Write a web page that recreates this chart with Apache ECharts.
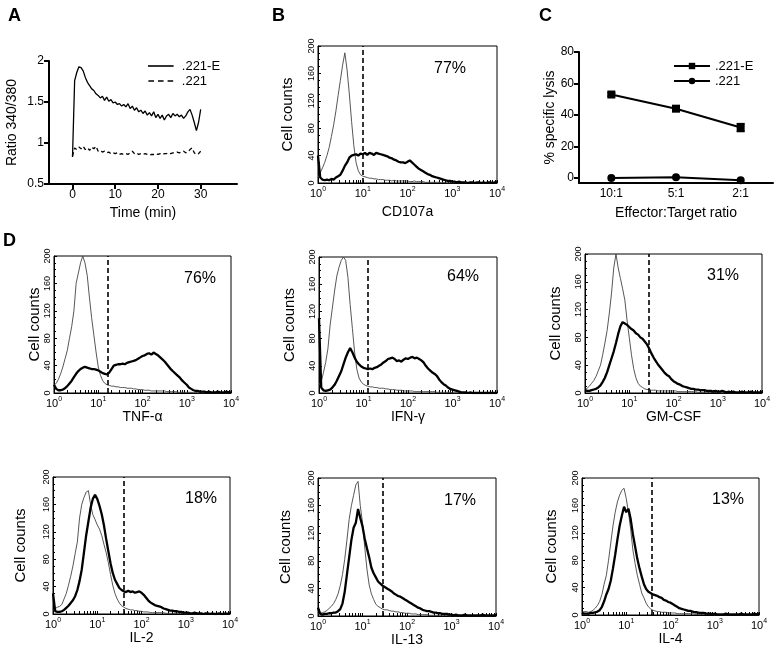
<!DOCTYPE html>
<html>
<head>
<meta charset="utf-8">
<script src="https://cdn.jsdelivr.net/npm/echarts@6/dist/echarts.min.js"></script>
<style>
html, body { margin: 0; padding: 0; background: #fff; }
#fig { width: 774px; height: 653px; }
</style>
</head>
<body>
<div id="fig"></div>
<script>
// A  Ca flux, ratio 340/380 every 0.5 min
var timeA = [];
for (var t = 0; t <= 60; t++) timeA.push(t / 2);
var ratioE = [
	0.83, 1.76, 1.86, 1.93, 1.92, 1.88, 1.80, 1.74, 1.70, 1.66,
	1.64, 1.60, 1.58, 1.55, 1.57, 1.52, 1.56, 1.51, 1.53, 1.49,
	1.50, 1.47, 1.48, 1.45, 1.47, 1.44, 1.48, 1.42, 1.45, 1.40,
	1.43, 1.38, 1.40, 1.36, 1.39, 1.34, 1.37, 1.33, 1.38, 1.31,
	1.35, 1.30, 1.34, 1.28, 1.33, 1.35, 1.31, 1.36, 1.33, 1.35,
	1.32, 1.34, 1.30, 1.33, 1.38, 1.41, 1.34, 1.25, 1.15, 1.25,
	1.41
];
var ratio221 = [
	0.84, 0.94, 0.92, 0.95, 0.93, 0.96, 0.92, 0.94, 0.91, 0.95,
	0.93, 0.96, 0.90, 0.91, 0.89, 0.90, 0.88, 0.89, 0.87, 0.88,
	0.87, 0.88, 0.86, 0.87, 0.86, 0.87, 0.86, 0.88, 0.90, 0.87,
	0.88, 0.86, 0.87, 0.86, 0.87, 0.86, 0.85, 0.86, 0.86, 0.87,
	0.86, 0.87, 0.86, 0.87, 0.87, 0.88, 0.87, 0.88, 0.88, 0.89,
	0.88, 0.89, 0.90, 0.88, 0.89, 0.92, 0.94, 0.88, 0.86, 0.87,
	0.90
];

// C  cytotoxicity
var etRatios = ['10:1', '5:1', '2:1'];
var lysisE   = [53, 44, 32];
var errE     = [1, 1, 2.5];
var lysis221 = [0, 0.5, -1.5];

// B / D  histograms, counts per 0.05-decade bin from 10^0 to 10^4
var bins = [];
for (var i = 0; i <= 80; i++) bins.push(i * 0.05);

var cdThin = [
	8, 15, 22, 30, 40, 52, 68, 85, 105, 128,
	150, 172, 190, 165, 130, 90, 55, 30, 18, 12,
	10, 9, 8, 7, 7, 6, 6, 5, 5, 5,
	4, 4, 4, 3, 4, 3, 3, 3, 3, 3,
	3, 2, 2, 3, 2, 2, 2, 2, 1, 1,
	1, 1, 1, 1, 1, 0, 1, 0, 0, 0,
	0, 0, 0, 0, 0, 0, 0, 0, 0, 0,
	0, 0, 0, 0, 0, 0, 0, 0, 0, 0,
	0];
var cdThick = [
	40, 8, 5, 4, 5, 4, 6, 5, 8, 10,
	12, 18, 25, 30, 37, 40, 41, 42, 40, 43,
	42, 44, 41, 44, 43, 41, 44, 43, 42, 41,
	40, 39, 37, 36, 34, 33, 31, 30, 30, 29,
	31, 33, 30, 27, 24, 21, 19, 17, 15, 13,
	12, 10, 9, 8, 7, 6, 5, 4, 3, 3,
	2, 2, 1, 2, 1, 1, 1, 0, 1, 1,
	0, 1, 1, 0, 1, 0, 1, 1, 0, 1,
	2];
var tnfThin = [
	12, 14, 20, 28, 38, 50, 62, 80, 97, 120,
	160, 175, 190, 200, 190, 172, 140, 110, 85, 60,
	38, 26, 18, 14, 12, 11, 10, 10, 9, 9,
	8, 8, 8, 7, 7, 7, 6, 6, 5, 5,
	5, 4, 4, 4, 3, 3, 3, 3, 3, 3,
	3, 2, 2, 2, 2, 2, 1, 1, 1, 1,
	1, 1, 1, 0, 1, 0, 0, 0, 0, 0,
	0, 0, 0, 0, 0, 0, 0, 0, 0, 0,
	0];
var tnfThick = [
	12, 6, 4, 4, 5, 7, 10, 14, 18, 23,
	28, 32, 35, 37, 38, 37, 36, 35, 35, 34,
	33, 31, 29, 28, 27, 30, 35, 40, 41, 42,
	42, 43, 42, 44, 45, 46, 47, 48, 50, 52,
	54, 55, 57, 58, 56, 59, 57, 55, 52, 49,
	46, 42, 38, 34, 31, 28, 25, 22, 18, 15,
	12, 8, 6, 4, 3, 3, 2, 2, 2, 1,
	2, 1, 1, 1, 2, 1, 1, 1, 2, 1,
	1];
var ifnThin = [
	12, 17, 30, 45, 65, 100, 125, 150, 172, 185,
	195, 200, 195, 170, 130, 95, 60, 35, 22, 16,
	13, 11, 10, 9, 9, 8, 8, 7, 7, 7,
	6, 6, 5, 5, 5, 4, 4, 4, 3, 3,
	3, 3, 3, 2, 2, 2, 2, 2, 2, 2,
	2, 2, 2, 1, 1, 1, 1, 1, 1, 1,
	0, 0, 0, 0, 0, 0, 0, 0, 0, 0,
	0, 0, 0, 0, 0, 0, 0, 0, 0, 0,
	0];
var ifnThick = [
	110, 8, 4, 3, 4, 5, 8, 12, 18, 25,
	32, 42, 52, 60, 66, 60, 52, 46, 42, 39,
	37, 36, 35, 36, 35, 37, 38, 40, 42, 45,
	47, 50, 51, 52, 50, 47, 48, 46, 49, 51,
	50, 52, 53, 51, 52, 50, 48, 45, 40, 36,
	33, 30, 28, 25, 20, 16, 13, 11, 8, 6,
	5, 4, 3, 2, 1, 1, 1, 0, 1, 0,
	0, 0, 0, 0, 0, 0, 0, 0, 0, 0,
	0];
var gmThin = [
	5, 7, 10, 14, 18, 24, 32, 40, 55, 72,
	90, 115, 144, 180, 200, 180, 165, 150, 134, 105,
	80, 55, 35, 22, 14, 10, 8, 6, 5, 5,
	4, 4, 4, 3, 3, 3, 3, 3, 3, 3,
	3, 3, 2, 2, 2, 2, 2, 2, 2, 2,
	2, 1, 1, 1, 1, 1, 1, 1, 1, 1,
	1, 0, 0, 0, 0, 0, 0, 0, 0, 0,
	0, 0, 0, 0, 0, 0, 0, 0, 0, 0,
	0];
var gmThick = [
	4, 3, 3, 4, 5, 6, 8, 11, 16, 22,
	30, 40, 50, 60, 72, 85, 96, 102, 100, 98,
	95, 92, 90, 86, 84, 80, 78, 74, 70, 64,
	57, 51, 46, 41, 37, 33, 29, 26, 24, 20,
	17, 15, 13, 12, 10, 9, 8, 7, 6, 6,
	5, 5, 4, 4, 4, 3, 3, 3, 2, 3,
	2, 2, 3, 2, 1, 2, 1, 2, 1, 1,
	1, 2, 1, 1, 1, 2, 1, 1, 1, 1,
	2];
var il2Thin = [
	5, 8, 10, 11, 14, 22, 30, 42, 55, 70,
	88, 105, 140, 160, 170, 178, 180, 160, 145, 138,
	130, 124, 115, 102, 90, 75, 58, 42, 30, 22,
	16, 12, 10, 8, 7, 6, 6, 5, 5, 4,
	4, 3, 3, 3, 2, 2, 2, 2, 2, 2,
	2, 1, 1, 1, 1, 1, 1, 1, 1, 1,
	0, 0, 0, 0, 0, 0, 0, 0, 0, 0,
	0, 0, 0, 0, 0, 0, 0, 0, 0, 0,
	0];
var il2Thick = [
	30, 4, 3, 3, 4, 6, 9, 12, 16, 20,
	26, 35, 48, 65, 90, 115, 135, 155, 168, 174,
	168, 158, 146, 130, 110, 92, 74, 60, 50, 44,
	38, 35, 33, 32, 34, 32, 33, 31, 32, 33,
	31, 28, 24, 20, 17, 15, 13, 12, 11, 10,
	8, 7, 6, 5, 5, 4, 4, 3, 3, 2,
	2, 2, 1, 1, 2, 1, 1, 1, 0, 1,
	1, 0, 1, 0, 0, 1, 0, 0, 1, 0,
	2];
var il13Thin = [
	4, 4, 5, 6, 8, 11, 14, 18, 24, 32,
	44, 60, 82, 110, 140, 160, 175, 190, 195, 160,
	135, 100, 68, 45, 32, 24, 17, 14, 12, 10,
	9, 9, 8, 7, 7, 6, 6, 5, 5, 4,
	4, 4, 3, 3, 3, 2, 2, 2, 2, 2,
	1, 1, 1, 1, 1, 1, 1, 1, 1, 0,
	0, 0, 0, 0, 0, 0, 0, 0, 0, 0,
	0, 0, 0, 0, 0, 0, 0, 0, 0, 0,
	0];
var il13Thick = [
	12, 3, 2, 3, 3, 4, 4, 5, 5, 7,
	10, 18, 35, 60, 85, 110, 128, 135, 155, 142,
	130, 112, 98, 85, 70, 62, 56, 50, 47, 44,
	42, 40, 38, 36, 33, 31, 29, 28, 26, 24,
	22, 20, 18, 16, 14, 12, 11, 9, 8, 7,
	7, 6, 5, 5, 4, 4, 3, 3, 3, 2,
	2, 1, 2, 1, 1, 1, 2, 1, 1, 1,
	1, 1, 1, 1, 2, 1, 1, 1, 1, 1,
	2];
var il4Thin = [
	4, 5, 5, 4, 5, 7, 10, 14, 20, 30,
	45, 58, 80, 105, 130, 150, 165, 175, 182, 185,
	170, 150, 125, 95, 75, 58, 45, 32, 25, 17,
	12, 9, 7, 6, 5, 5, 4, 4, 4, 3,
	3, 3, 3, 2, 2, 2, 2, 2, 2, 2,
	2, 1, 1, 1, 1, 1, 1, 1, 1, 1,
	0, 0, 0, 0, 0, 0, 0, 0, 0, 0,
	0, 0, 0, 0, 0, 0, 0, 0, 0, 0,
	0];
var il4Thick = [
	3, 2, 2, 2, 3, 3, 4, 5, 7, 12,
	20, 30, 38, 50, 68, 88, 110, 130, 145, 158,
	150, 155, 140, 118, 100, 82, 68, 56, 45, 38,
	34, 32, 30, 29, 28, 26, 25, 22, 21, 19,
	18, 16, 14, 12, 10, 9, 8, 7, 6, 6,
	5, 4, 4, 3, 3, 3, 2, 2, 2, 1,
	2, 1, 1, 1, 1, 2, 1, 1, 1, 1,
	1, 1, 2, 1, 1, 1, 1, 1, 2, 1,
	2];

var markers  = ['CD107a', 'TNF-\u03b1', 'IFN-\u03b3', 'GM-CSF', 'IL-2', 'IL-13', 'IL-4'];
var thinSets  = [cdThin, tnfThin, ifnThin, gmThin, il2Thin, il13Thin, il4Thin];
var thickSets = [cdThick, tnfThick, ifnThick, gmThick, il2Thick, il13Thick, il4Thick];
var gates    = [1.0, 1.22, 1.1, 1.45, 1.6, 1.46, 1.58];   // decades
var percents = ['77%', '76%', '64%', '31%', '18%', '17%', '13%'];

// layout of the histogram boxes (px)
var histBox = [
	{ left: 318, top: 46,  width: 179, height: 137, yGap: 23, xGap: 22, px: 450, py: 70 },
	{ left: 54,  top: 256, width: 177, height: 137, yGap: 9,  xGap: 12, px: 200, py: 280 },
	{ left: 319, top: 257, width: 178, height: 136, yGap: 22, xGap: 12, px: 463, py: 278 },
	{ left: 585, top: 254, width: 177, height: 139, yGap: 22, xGap: 12, px: 723, py: 277 },
	{ left: 53,  top: 477, width: 177, height: 137, yGap: 25, xGap: 11, px: 201, py: 500 },
	{ left: 318, top: 478, width: 178, height: 138, yGap: 25, xGap: 14, px: 460, py: 502 },
	{ left: 582, top: 478, width: 177, height: 137, yGap: 23, xGap: 15, px: 728, py: 501 }
];

var FONT = "'Liberation Sans', Arial, Helvetica, sans-serif";
var txt = function(size){ return { fontSize: size, fontFamily: FONT, color: '#000' }; };

// log minor ticks 1..9 x 10^n, in decade units
var logTicks = [];
for (var d = 0; d < 4; d++) {
	for (var m = 1; m <= 9; m++) logTicks.push(d + Math.log10(m));
}
logTicks.push(4);

var grids = [], xAxes = [], yAxes = [], series = [];

// ---- A ----
grids.push({ left: 49, top: 61, width: 188, height: 123 });
xAxes.push({
	gridIndex: 0, type: 'value', min: -5.5, max: 38.5,
	axisLine: { onZero: false, lineStyle: { color: '#000', width: 2 } },
	axisTick: { customValues: [0, 10, 20, 30], length: 5, lineStyle: { color: '#000', width: 2 } },
	axisLabel: Object.assign({ customValues: [0, 10, 20, 30], margin: 5 }, txt(12)),
	splitLine: { show: false },
	name: 'Time (min)', nameLocation: 'middle', nameGap: 22, nameTextStyle: txt(14)
});
yAxes.push({
	gridIndex: 0, type: 'value', min: 0.5, max: 2, interval: 0.5,
	axisLine: { show: true, onZero: false, lineStyle: { color: '#000', width: 2 } },
	axisTick: { show: true, length: 5, lineStyle: { color: '#000', width: 2 } },
	axisLabel: Object.assign({ margin: 5 }, txt(12)),
	splitLine: { show: false },
	name: 'Ratio 340/380', nameLocation: 'middle', nameGap: 30, nameTextStyle: txt(14)
});
series.push({
	name: '.221-E', type: 'line', xAxisIndex: 0, yAxisIndex: 0, symbol: 'none',
	data: timeA.map(function(t, i){ return [t, ratioE[i]]; }),
	lineStyle: { color: '#000', width: 1.3 }, itemStyle: { color: '#000' }
});
series.push({
	name: '.221', type: 'line', xAxisIndex: 0, yAxisIndex: 0, symbol: 'none',
	data: timeA.map(function(t, i){ return [t, ratio221[i]]; }),
	lineStyle: { color: '#000', width: 1.3, type: [4, 3] }, itemStyle: { color: '#000' }
});

// ---- C ----
grids.push({ left: 579, top: 52, width: 194, height: 131 });
xAxes.push({
	gridIndex: 1, type: 'category', data: etRatios, boundaryGap: true,
	axisLine: { onZero: false, lineStyle: { color: '#000', width: 2 } },
	axisTick: { alignWithLabel: true, length: 5, lineStyle: { color: '#000', width: 2 } },
	axisLabel: Object.assign({ margin: 5 }, txt(12)),
	name: 'Effector:Target ratio', nameLocation: 'middle', nameGap: 23, nameTextStyle: txt(14)
});
yAxes.push({
	gridIndex: 1, type: 'value', min: -3.2, max: 80,
	axisLine: { show: true, onZero: false, lineStyle: { color: '#000', width: 2 } },
	axisTick: { show: true, customValues: [0, 20, 40, 60, 80], length: 5, lineStyle: { color: '#000', width: 2 } },
	axisLabel: Object.assign({ customValues: [0, 20, 40, 60, 80], margin: 5 }, txt(12)),
	splitLine: { show: false },
	name: '% specific lysis', nameLocation: 'middle', nameGap: 17, nameTextStyle: txt(14)
});
series.push({
	name: 'C .221-E', type: 'line', xAxisIndex: 1, yAxisIndex: 1, data: lysisE,
	symbol: 'rect', symbolSize: 8,
	lineStyle: { color: '#000', width: 2 }, itemStyle: { color: '#000' }
});
series.push({
	name: 'C .221', type: 'line', xAxisIndex: 1, yAxisIndex: 1, data: lysis221,
	symbol: 'circle', symbolSize: 8,
	lineStyle: { color: '#000', width: 2 }, itemStyle: { color: '#000' }
});
series.push({
	type: 'custom', xAxisIndex: 1, yAxisIndex: 1,
	data: lysisE.map(function(v, i){ return [i, v - errE[i], v + errE[i]]; }),
	encode: { x: 0, y: [1, 2] },
	renderItem: function(params, api){
		var lo = api.coord([api.value(0), api.value(1)]);
		var hi = api.coord([api.value(0), api.value(2)]);
		var st = { stroke: '#000', lineWidth: 1.5 };
		return { type: 'group', children: [
			{ type: 'line', shape: { x1: lo[0], y1: lo[1], x2: hi[0], y2: hi[1] }, style: st },
			{ type: 'line', shape: { x1: lo[0] - 4, y1: lo[1], x2: lo[0] + 4, y2: lo[1] }, style: st },
			{ type: 'line', shape: { x1: hi[0] - 4, y1: hi[1], x2: hi[0] + 4, y2: hi[1] }, style: st }
		]};
	}
});

// ---- B, D histograms ----
var graphics = [];
histBox.forEach(function(b, k){
	var g = grids.length;
	grids.push({ left: b.left, top: b.top, width: b.width, height: b.height, show: true, borderColor: '#000', borderWidth: 1 });
	xAxes.push({
		gridIndex: g, type: 'value', min: 0, max: 4, interval: 1,
		axisLine: { onZero: false, lineStyle: { color: '#000', width: 1 } },
		axisTick: { inside: true, customValues: logTicks, length: 3, lineStyle: { color: '#000' } },
		axisLabel: {
			margin: 3,
			formatter: function(v){ return '{b|10}{s|' + v + '}'; },
			rich: {
				b: { fontSize: 11, fontFamily: FONT, color: '#000', verticalAlign: 'bottom' },
				s: { fontSize: 7, fontFamily: FONT, color: '#000', verticalAlign: 'bottom', padding: [0, 0, 6, 0] }
			}
		},
		splitLine: { show: false },
		name: markers[k], nameLocation: 'middle', nameGap: b.xGap, nameTextStyle: txt(14)
	});
	yAxes.push({
		gridIndex: g, type: 'value', min: 0, max: 200, interval: 40,
		axisLine: { show: true, onZero: false, lineStyle: { color: '#000', width: 1 } },
		axisTick: { show: true, inside: true, length: 3, lineStyle: { color: '#000' } },
		minorTick: { show: true, splitNumber: 4, length: 2, lineStyle: { color: '#000' } },
		axisLabel: Object.assign({ rotate: 90, margin: 2 }, txt(9)),
		splitLine: { show: false },
		name: 'Cell counts', nameLocation: 'middle', nameGap: b.yGap, nameTextStyle: txt(15)
	});
	series.push({
		name: 'ctrl ' + k, type: 'line', xAxisIndex: g, yAxisIndex: g, symbol: 'none',
		data: bins.map(function(x, i){ return [x, thinSets[k][i]]; }),
		lineStyle: { color: '#444', width: 0.9 }
	});
	series.push({
		name: 'stim ' + k, type: 'line', xAxisIndex: g, yAxisIndex: g, symbol: 'none',
		data: bins.map(function(x, i){ return [x, thickSets[k][i]]; }),
		lineStyle: { color: '#000', width: 2.3 },
		markLine: {
			silent: true, symbol: ['none', 'none'], label: { show: false },
			lineStyle: { color: '#000', width: 1.6, type: [5, 3] },
			data: [{ xAxis: gates[k] }]
		}
	});
	graphics.push({
		type: 'text', left: b.px - 16, top: b.py - 9,
		style: { text: percents[k], font: '16px ' + FONT, fill: '#000' }
	});
});

// panel letters
[['A', 8, 7], ['B', 272, 7], ['C', 539, 7], ['D', 3, 232]].forEach(function(p){
	graphics.push({ type: 'text', left: p[1], top: p[2], style: { text: p[0], font: 'bold 18px ' + FONT, fill: '#000' } });
});

var solidIcon  = 'path://M0,0H32V2H0Z';
var dashedIcon = 'path://M0,0H7V2H0Z M12,0H19V2H12Z M24,0H31V2H24Z';

var myChart = echarts.init(document.getElementById('fig'));
var option = {
	animation: false,
	backgroundColor: '#fff',
	grid: grids,
	xAxis: xAxes,
	yAxis: yAxes,
	legend: [
		{
			left: 143, top: 54, orient: 'vertical', itemWidth: 32, itemHeight: 1.6, itemGap: 1,
			selectedMode: false, textStyle: Object.assign({ lineHeight: 14 }, txt(13)),
			itemStyle: { color: '#000' },
			data: [{ name: '.221-E', icon: solidIcon }, { name: '.221', icon: dashedIcon }]
		},
		{
			left: 668, top: 54, orient: 'vertical', itemWidth: 36, itemHeight: 8, itemGap: 1,
			selectedMode: false, data: ['C .221-E', 'C .221'],
			textStyle: Object.assign({ lineHeight: 14 }, txt(13)),
			formatter: function(n){ return n.slice(2); }
		}
	],
	graphic: graphics,
	series: series
};
myChart.setOption(option);
</script>
</body>
</html>
